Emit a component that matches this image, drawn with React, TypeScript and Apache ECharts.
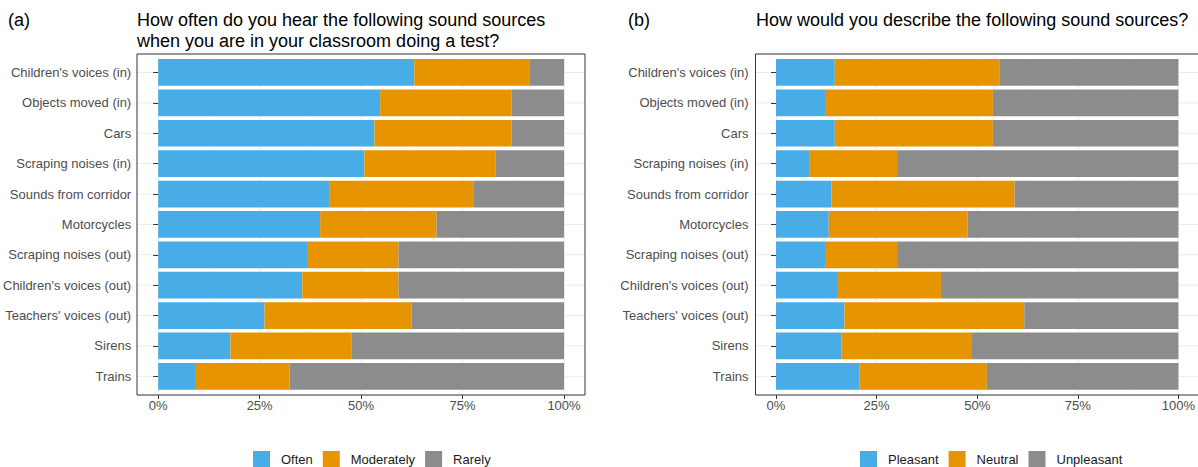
import React, { useEffect, useRef } from "react";
import * as echarts from "echarts";

// Sound sources, listed top to bottom
const categories = [
  "Children's voices (in)",
  "Objects moved (in)",
  "Cars",
  "Scraping noises (in)",
  "Sounds from corridor",
  "Motorcycles",
  "Scraping noises (out)",
  "Children's voices (out)",
  "Teachers' voices (out)",
  "Sirens",
  "Trains",
];

// (a) frequency of hearing each source (% of answers)
const often = [63.1, 54.7, 53.3, 50.8, 42.3, 39.9, 36.9, 35.5, 26.2, 17.8, 9.3];
const moderately = [28.5, 32.4, 33.8, 32.4, 35.5, 28.7, 22.3, 23.7, 36.2, 29.9, 23.1];
const rarely = [8.4, 12.9, 12.9, 16.8, 22.2, 31.4, 40.8, 40.8, 37.6, 52.3, 67.6];

// (b) perceived character of each source (% of answers)
const pleasant = [14.6, 12.4, 14.6, 8.4, 13.8, 13.1, 12.4, 15.4, 17.0, 16.2, 20.7];
const neutral = [40.9, 41.5, 39.3, 21.7, 45.5, 34.5, 17.7, 25.6, 44.7, 32.3, 31.7];
const unpleasant = [44.5, 46.1, 46.1, 69.9, 40.7, 52.4, 69.9, 59.0, 38.3, 51.5, 47.6];

const xTicks = [0, 25, 50, 75, 100];

const BLUE = "#48ACE7";
const ORANGE = "#E69500";
const GREY = "#8C8C8C";
const FONT = "Liberation Sans, Arial, sans-serif";

// panel frames (bordered panels with 5% padding around the bars)
const panels = [
  { left: 137, right: 585, plotLeft: 157, plotWidth: 407 },
  { left: 755.5, right: 1203.5, plotLeft: 776, plotWidth: 407 },
];
const PANEL_TOP = 54;
const PANEL_BOTTOM = 395;
const PLOT_TOP = 57.3;
const PLOT_HEIGHT = 334.2;

export default function App() {
  const ref = useRef<HTMLDivElement>(null);

  useEffect(() => {
    if (!ref.current) return;
    const chart = echarts.init(ref.current, undefined, { renderer: "svg" });

    const grids = panels.map((p) => ({
      left: p.plotLeft,
      top: PLOT_TOP,
      width: p.plotWidth,
      height: PLOT_HEIGHT,
      containLabel: false,
    }));

    const xAxes = panels.map((_, i) => ({
      type: "value" as const,
      gridIndex: i,
      min: 0,
      max: 100,
      interval: 25,
      offset: PANEL_BOTTOM - (PLOT_TOP + PLOT_HEIGHT),
      axisLine: { show: false },
      axisTick: { show: true, length: 4, lineStyle: { color: "#333333" } },
      axisLabel: {
        margin: 4,
        color: "#4D4D4D",
        fontSize: 13,
        fontFamily: FONT,
        formatter: (v: number) => (xTicks.includes(v) ? `${v}%` : ""),
      },
      splitLine: { show: true, lineStyle: { color: "#EBEBEB", width: 1 } },
      minorTick: { show: false, splitNumber: 2 },
      minorSplitLine: { show: true, lineStyle: { color: "#F5F5F5", width: 0.6 } },
    }));

    const yAxes = panels.map((p, i) => ({
      type: "category" as const,
      gridIndex: i,
      data: categories,
      inverse: true,
      offset: p.plotLeft - p.left,
      axisLine: { show: false },
      axisTick: { show: true, length: 5, alignWithLabel: true, lineStyle: { color: "#333333" } },
      axisLabel: { margin: 7, color: "#4D4D4D", fontSize: 13, fontFamily: FONT },
      splitLine: { show: false },
    }));

    const bar = (name: string, data: number[], color: string, idx: number) => ({
      name,
      type: "bar" as const,
      stack: `s${idx}`,
      xAxisIndex: idx,
      yAxisIndex: idx,
      data,
      barWidth: "88%",
      itemStyle: { color },
      emphasis: { disabled: true },
    });

    const frames = panels.map((p) => ({
      type: "rect",
      z: 100,
      silent: true,
      shape: { x: p.left, y: PANEL_TOP, width: p.right - p.left, height: PANEL_BOTTOM - PANEL_TOP },
      style: { fill: "none", stroke: "#333333", lineWidth: 1 },
    }));

    const legendBase = {
      icon: "rect",
      itemWidth: 17,
      itemHeight: 17,
      itemGap: 10,
      top: 451,
      padding: 0,
      orient: "horizontal" as const,
      selectedMode: false,
      textStyle: { fontSize: 13, color: "#1A1A1A", fontFamily: FONT, padding: [0, 0, 0, 6] },
    };

    const titleStyle = { fontSize: 18, lineHeight: 21, fontWeight: "normal" as const, color: "#000", fontFamily: FONT };

    chart.setOption({
      animation: false,
      textStyle: { fontFamily: FONT },
      title: [
        { text: "(a)", left: 8, top: 9, padding: 0, textStyle: titleStyle },
        {
          text: "How often do you hear the following sound sources\nwhen you are in your classroom doing a test?",
          left: 137,
          top: 9,
          padding: 0,
          textStyle: titleStyle,
        },
        { text: "(b)", left: 628, top: 9, padding: 0, textStyle: titleStyle },
        {
          text: "How would you describe the following sound sources?",
          left: 756,
          top: 9,
          padding: 0,
          textStyle: titleStyle,
        },
      ],
      legend: [
        { ...legendBase, left: 253, data: ["Often", "Moderately", "Rarely"] },
        { ...legendBase, left: 860, data: ["Pleasant", "Neutral", "Unpleasant"] },
      ],
      grid: grids,
      xAxis: xAxes,
      yAxis: yAxes,
      series: [
        bar("Often", often, BLUE, 0),
        bar("Moderately", moderately, ORANGE, 0),
        bar("Rarely", rarely, GREY, 0),
        bar("Pleasant", pleasant, BLUE, 1),
        bar("Neutral", neutral, ORANGE, 1),
        bar("Unpleasant", unpleasant, GREY, 1),
      ],
      graphic: frames,
    });

    // faint horizontal grid lines through each category, across the whole panel
    const rowLines: any[] = [];
    panels.forEach((p, i) => {
      categories.forEach((c) => {
        const y = chart.convertToPixel({ yAxisIndex: i } as any, c) as number;
        rowLines.push({
          type: "line",
          z: -1,
          silent: true,
          shape: { x1: p.left, y1: y, x2: p.right, y2: y },
          style: { stroke: "#EBEBEB", lineWidth: 1 },
        });
      });
    });
    chart.setOption({ graphic: [...frames, ...rowLines] });

    return () => chart.dispose();
  }, []);

  return (
    <div
      ref={ref}
      style={{ position: "absolute", left: 0, top: 0, width: 1198, height: 467, background: "#fff" }}
    />
  );
}
